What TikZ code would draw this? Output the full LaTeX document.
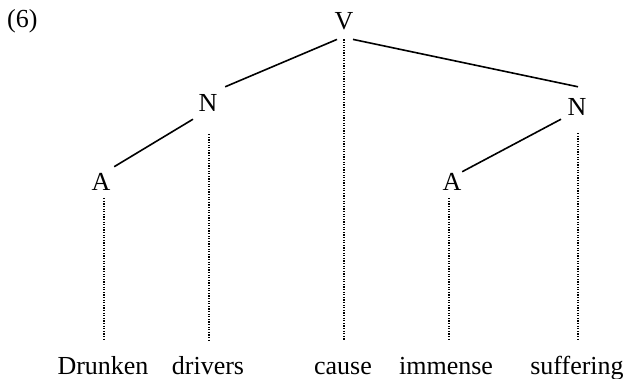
\documentclass[tikz,border=0pt]{standalone}
\usepackage{fontspec}
\setmainfont{Liberation Serif}
\begin{document}
\begin{tikzpicture}[x=1pt,y=-1pt,
  lbl/.style={inner sep=0pt, font=\fontsize{26}{30}\selectfont},
  branch/.style={line width=1.6pt},
  dots/.style={line width=1.1pt, dash pattern=on 1.1pt off 1.5pt}]
\useasboundingbox (0,0) rectangle (626,379);
\node[lbl, anchor=base west] (ex) at (7,27.5) {(6)};
\node[lbl] (V) at (344,21) {V};
\node[lbl] (N1) at (208,103) {N};
\node[lbl] (N2) at (577,107) {N};
\node[lbl] (A1) at (101,181.5) {A};
\node[lbl] (A2) at (452,181.5) {A};
\node[lbl, anchor=base] (w1) at (103,374) {Drunken};
\node[lbl, anchor=base] (w2) at (208,374) {drivers};
\node[lbl, anchor=base] (w3) at (343,374) {cause};
\node[lbl, anchor=base] (w4) at (446,374) {immense};
\node[lbl, anchor=base] (w5) at (577,374) {suffering};
\coordinate (bot) at (0,340);
% branches
\draw[branch] ([xshift=-7pt,yshift=-9.5pt]V.south) -- ([xshift=7.6pt,yshift=7.5pt]N1.north east);
\draw[branch] ([xshift=9pt,yshift=-9.5pt]V.south) -- ([xshift=1pt,yshift=11.5pt]N2.north);
\draw[branch] ([xshift=-15pt,yshift=-7.5pt]N1.south) -- ([xshift=3.6pt,yshift=6pt]A1.north east);
\draw[branch] ([xshift=-16pt,yshift=-3.5pt]N2.south) -- ([xshift=0.6pt,yshift=1pt]A2.north east);
% dotted links to words
\coordinate (vd) at ([yshift=-9.5pt]V.south);
\coordinate (n1d) at ([xshift=1pt,yshift=-22.5pt]N1.south);
\coordinate (n2d) at ([xshift=1pt,yshift=-17.5pt]N2.south);
\coordinate (a1d) at ([xshift=3pt,yshift=-8pt]A1.south);
\coordinate (a2d) at ([xshift=-3pt,yshift=-8pt]A2.south);
\draw[dots] (vd) -- (vd |- bot);
\draw[dots] (n1d) -- (n1d |- bot);
\draw[dots] (n2d) -- (n2d |- bot);
\draw[dots] (a1d) -- (a1d |- bot);
\draw[dots] (a2d) -- (a2d |- bot);
\end{tikzpicture}
\end{document}
